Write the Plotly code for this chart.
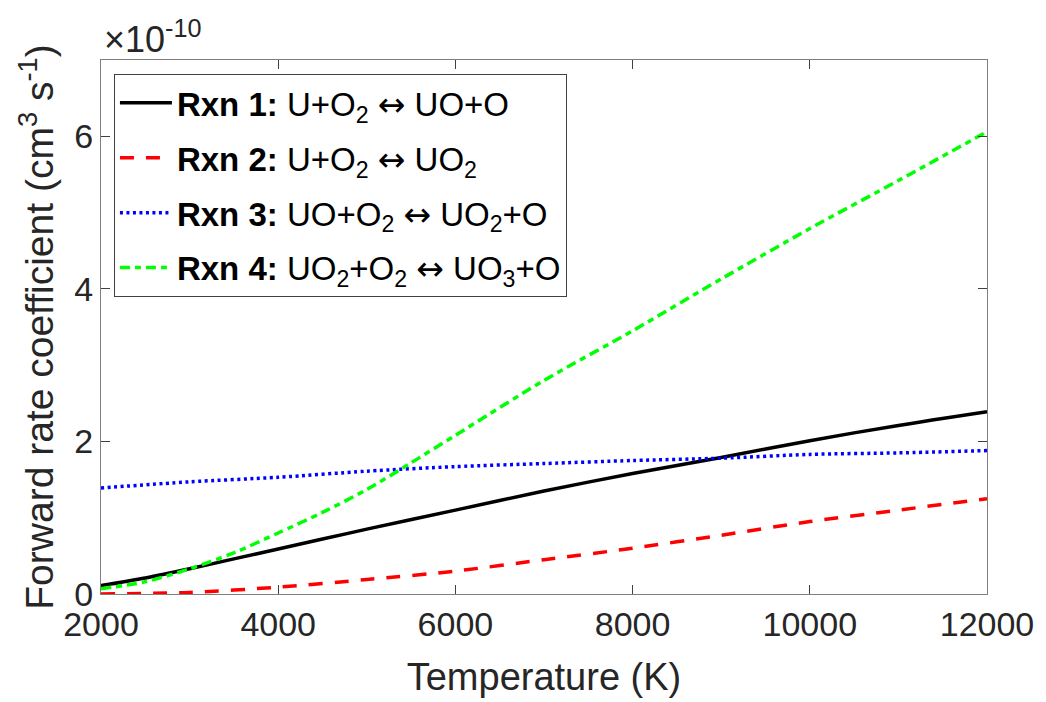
import plotly.graph_objects as go

# Temperature (K) and forward rate coefficients (units of 1e-10 cm^3 s^-1)
T1 = [2000, 2500, 3000, 3500, 4000, 4500, 5000, 6000, 7000, 8000, 9000, 10000, 11000, 12000]
k1 = [0.11, 0.21, 0.33, 0.46, 0.59, 0.72, 0.85, 1.10, 1.35, 1.58, 1.79, 2.01, 2.21, 2.39]

T2 = [2000, 3000, 4000, 5000, 6000, 7000, 8000, 9000, 10000, 11000, 12000]
k2 = [0.00, 0.02, 0.09, 0.19, 0.30, 0.45, 0.60, 0.77, 0.95, 1.10, 1.25]

T3 = [2000, 3000, 4000, 5000, 6000, 7000, 8000, 9000, 10000, 11000, 12000]
k3 = [1.39, 1.47, 1.53, 1.61, 1.67, 1.71, 1.75, 1.78, 1.83, 1.85, 1.88]

T4 = [2000, 2500, 3000, 3500, 4000, 4500, 5000, 5500, 6000, 7000, 8000, 9000, 10000, 11000, 12000]
k4 = [0.07, 0.16, 0.33, 0.54, 0.80, 1.07, 1.37, 1.72, 2.08, 2.80, 3.45, 4.13, 4.79, 5.42, 6.06]

ARROW = '<span style="font-family:DejaVu Sans">\u2194</span>'
names = [
    f"<b>Rxn 1:</b> U+O<sub>2</sub> {ARROW} UO+O",
    f"<b>Rxn 2:</b> U+O<sub>2</sub> {ARROW} UO<sub>2</sub>",
    f"<b>Rxn 3:</b> UO+O<sub>2</sub> {ARROW} UO<sub>2</sub>+O",
    f"<b>Rxn 4:</b> UO<sub>2</sub>+O<sub>2</sub> {ARROW} UO<sub>3</sub>+O",
]

x_ticks = [2000, 4000, 6000, 8000, 10000, 12000]
x_ticktext = ["2000", "4000", "6000", "8000", "10000", "12000"]
y_ticks = [0, 2, 4, 6]
y_ticktext = ["0", "2", "4", "6"]

FONT = "Liberation Sans, Arial, sans-serif"
TXT = "#262626"

series = [
    (T1, k1, "#000000", "solid"),
    (T2, k2, "#FF0000", "14px,12px"),
    (T3, k3, "#0000FF", "3px,3.5px"),
    (T4, k4, "#00FF00", "10px,5px,6px,5px"),
]

fig = go.Figure()
for i, (x, y, c, d) in enumerate(series):
    fig.add_trace(go.Scatter(
        x=x, y=y, mode="lines", name=names[i], legendgroup=f"g{i}",
        line=dict(color=c, width=3.5, dash=d, shape="spline", smoothing=0.8),
    ))

axis_common = dict(
    showline=True, linecolor="#808080", linewidth=1, mirror="ticks",
    ticks="inside", ticklen=9, tickcolor="#404040", tickwidth=1,
    showgrid=False, zeroline=False,
    tickfont=dict(family=FONT, size=34, color=TXT),
)

fig.update_layout(
    width=1046, height=702,
    margin=dict(l=101, r=48, t=60, b=103),
    paper_bgcolor="white", plot_bgcolor="white",
    font=dict(family=FONT, color=TXT),
    xaxis=dict(range=[2000, 12000], tickvals=x_ticks, ticktext=x_ticktext,
               title=dict(text="Temperature (K)", font=dict(family=FONT, size=38, color=TXT), standoff=21),
               **axis_common),
    yaxis=dict(range=[0, 7], tickvals=y_ticks, ticktext=y_ticktext,
               title=dict(text="Forward rate coefficient (cm<sup>3</sup> s<sup>-1</sup>)",
                          font=dict(family=FONT, size=39, color=TXT), standoff=8),
               **axis_common),
    legend=dict(
        x=0.0146, y=0.974, xanchor="left", yanchor="top",
        bgcolor="white", bordercolor="#404040", borderwidth=1,
        font=dict(family=FONT, size=33, color="#000000"),
        tracegroupgap=9, itemwidth=52,
    ),
    annotations=[dict(
        text="\u00d710<sup>-10</sup>", xref="paper", yref="paper",
        x=0.0, y=1.0, xanchor="left", yanchor="bottom", yshift=-2, xshift=1,
        showarrow=False, font=dict(family=FONT, size=36, color=TXT),
    )],
)

fig.write_html("out.html", config={"displayModeBar": False},
               post_script="document.body.style.margin='0';document.body.style.overflow='hidden';")
